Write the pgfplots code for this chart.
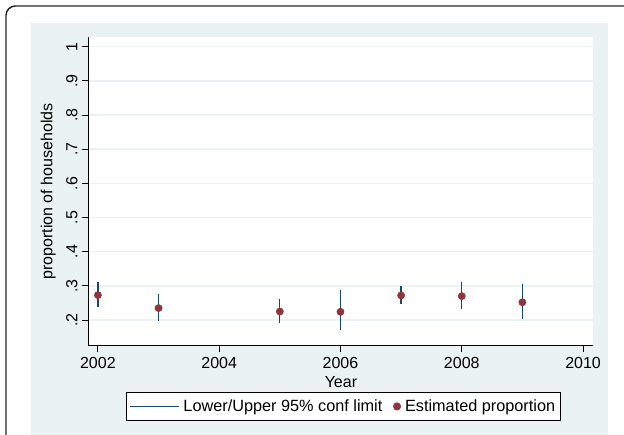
\documentclass[border=0pt]{standalone}
\usepackage{fontspec}
\setmainfont{Liberation Sans}
\usepackage{pgfplots}
\pgfplotsset{compat=1.18}

\definecolor{bgcol}{RGB}{234,242,243}
\definecolor{gridcol}{RGB}{234,242,243}
\definecolor{statanavy}{RGB}{26,71,111}
\definecolor{statamaroon}{RGB}{144,53,59}

\begin{document}
\begin{tikzpicture}[x=0.75pt,y=0.75pt]
\clip (0,0) rectangle (624,435);
\fill[bgcol] (31,-10) rectangle (608,412.3);
\draw[line width=1.1pt, rounded corners=7pt, black!85] (6,-30) -- (6,429) -- (660,429);

\begin{axis}[
  at={(66.6pt,67pt)}, anchor=south west,
  scale only axis,
  width=378.2pt, height=231.3pt,
  xmin=2001.85, xmax=2010.165,
  ymin=0.125, ymax=1.0275,
  axis lines=left,
  axis line style={-, black, line width=0.6pt},
  axis background/.style={fill=white},
  tick align=outside,
  major tick length=5pt,
  tick style={black, line width=0.6pt},
  xtick={2002,2004,2006,2008,2010},
  ytick={0.2,0.3,0.4,0.5,0.6,0.7,0.8,0.9,1},
  yticklabels={.2,.3,.4,.5,.6,.7,.8,.9,1},
  /pgf/number format/1000 sep={},
  /pgf/number format/assume math mode=true,
  ymajorgrids,
  grid style={gridcol, line width=1.1pt},
  tick label style={font=\fontsize{12}{14}\selectfont},
  yticklabel style={rotate=90, anchor=south},
  label style={font=\fontsize{12}{14}\selectfont},
  xlabel={Year},
  ylabel={proportion of households},
  xlabel style={yshift=1pt},
  ylabel style={yshift=1pt},
  unbounded coords=jump,
  legend columns=2,
  legend style={at={(0.505,-0.197)}, anchor=center, draw=black, line width=0.6pt,
    fill=white, font=\fontsize{12.2}{14}\selectfont, inner xsep=2pt, inner ysep=3pt,
    /tikz/every odd column/.append style={column sep=1pt},
    /tikz/every even column/.append style={column sep=6pt}},
]
% confidence intervals
\addplot[statanavy, line width=1pt,
  legend image code/.code={\draw[statanavy, line width=0.8pt] (0pt,0pt) -- (37pt,0pt);}]
  coordinates {
  (2002,0.239) (2002,0.310) (2002,nan)
  (2003,0.198) (2003,0.276) (2003,nan)
  (2005,0.192) (2005,0.262) (2005,nan)
  (2006,0.171) (2006,0.289) (2006,nan)
  (2007,0.246) (2007,0.300) (2007,nan)
  (2008,0.233) (2008,0.310) (2008,nan)
  (2009,0.203) (2009,0.305)
};
\addlegendentry{Lower/Upper 95\% conf limit}
% estimates
\addplot[only marks, mark=*, mark size=2.7pt, statamaroon,
  mark options={fill=statamaroon, draw=statamaroon},
  legend image code/.code={\fill[statamaroon] (0pt,0pt) circle (2.7pt);}]
  coordinates {
  (2002,0.273) (2003,0.235) (2005,0.225) (2006,0.224)
  (2007,0.272) (2008,0.270) (2009,0.252)
};
\addlegendentry{Estimated proportion}
\end{axis}
\end{tikzpicture}
\end{document}
